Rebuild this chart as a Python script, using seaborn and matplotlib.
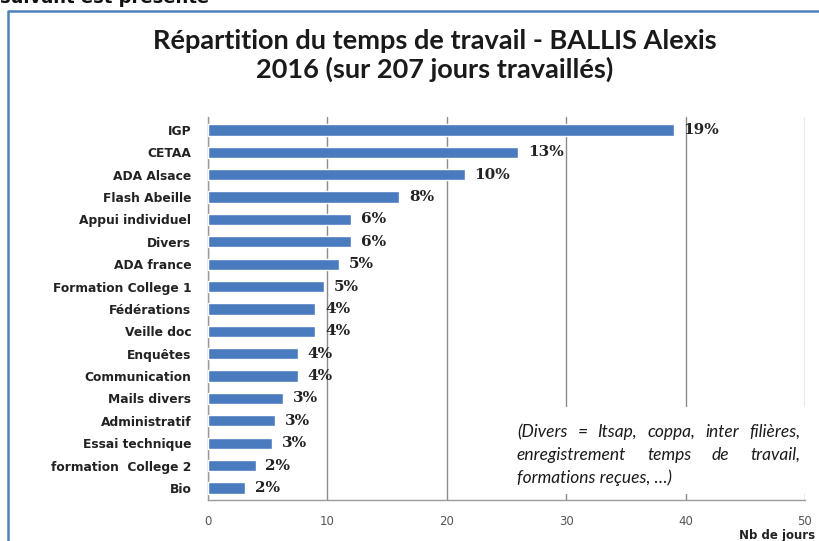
import numpy as np
import pandas as pd
import seaborn as sns
import matplotlib.pyplot as plt
from matplotlib.lines import Line2D
from matplotlib.patches import Rectangle

categories = ['IGP', 'CETAA', 'ADA Alsace', 'Flash Abeille', 'Appui individuel', 'Divers',
              'ADA france', 'Formation College 1', 'Fédérations', 'Veille doc', 'Enquêtes',
              'Communication', 'Mails divers', 'Administratif', 'Essai technique',
              'formation  College 2', 'Bio']
jours = [39, 26, 21.5, 16, 12, 12, 11, 9.7, 9, 9, 7.5, 7.5, 6.3, 5.6, 5.4, 4, 3.1]
pourcents = ['19%', '13%', '10%', '8%', '6%', '6%', '5%', '5%', '4%', '4%', '4%', '4%',
             '3%', '3%', '3%', '2%', '2%']
xticks = [0, 10, 20, 30, 40, 50]
note = ['(Divers = Itsap, coppa, inter filières,',
        'enregistrement temps de travail,',
        'formations reçues, …)']

df = pd.DataFrame({'categorie': categories, 'jours': jours})

sns.set_style('white')
plt.rcParams['font.family'] = ['DejaVu Sans']

W, H = 820, 541
fig = plt.figure(figsize=(8.2, 5.41), dpi=100)
ax = fig.add_axes([208 / W, 1 - 500 / H, (805 - 208) / W, (500 - 117) / H])

sns.barplot(data=df, x='jours', y='categorie', orient='h', color='#4a7bbf',
            width=0.5, saturation=1, ax=ax, zorder=3)

ax.set_xlim(0, 50)
ax.set_ylim(16.54, -0.58)
ax.set_xticks(xticks)
ax.grid(axis='x', color='#8c8c8c', linewidth=1)
ax.grid(axis='y', visible=False)
ax.set_axisbelow(True)

for s in ['top', 'right']:
    ax.spines[s].set_visible(False)
for s in ['left', 'bottom']:
    ax.spines[s].set_color('#9a9a9a')
    ax.spines[s].set_linewidth(1)

ax.tick_params(axis='x', direction='out', length=4, color='#9a9a9a', labelsize=8.5,
               labelcolor='#555555', pad=7)
ax.tick_params(axis='y', which='major', length=0, pad=12, labelsize=8.8, labelcolor='#222222')
ax.set_yticks(np.arange(-0.5, len(categories)), minor=True)
ax.tick_params(axis='y', which='minor', length=4, color='#b0b0b0')
for lab in ax.get_yticklabels():
    lab.set_fontweight('bold')

ax.set_xlabel('')
ax.set_ylabel('')

ax.bar_label(ax.containers[0], labels=pourcents, padding=7, fontsize=11,
             fontweight='bold', family='DejaVu Serif', color='#222222')

fig.text(815 / W, 1 - 535 / H, 'Nb de jours', ha='right', va='center',
         fontsize=8.5, fontweight='bold', color='#222222')

fig.text(435 / W, 1 - 41 / H, 'Répartition du temps de travail - BALLIS Alexis',
         ha='center', va='center', fontsize=19.5, fontweight='bold', family='Lato', color='#1a1a1a')
fig.text(435 / W, 1 - 69 / H, '2016 (sur 207 jours travaillés)',
         ha='center', va='center', fontsize=19.5, fontweight='bold', family='Lato', color='#1a1a1a')

# encart de note (fond blanc par-dessus la grille)
fig.patches.append(Rectangle((512 / W, 1 - 494 / H), (812 - 512) / W, (494 - 407) / H,
                             transform=fig.transFigure, facecolor='white', edgecolor='none',
                             zorder=2))
note_kw = dict(va='center', fontsize=12.5, style='italic', family='Lato', color='#1a1a1a', zorder=3)
renderer = fig.canvas.get_renderer()
x0, x1 = 517, 800
for i, (ligne, y) in enumerate(zip(note, [432, 455, 478])):
    if i == len(note) - 1:
        fig.text(x0 / W, 1 - y / H, ligne, ha='left', **note_kw)
        continue
    # texte justifié : on répartit les mots entre x0 et x1
    mots = ligne.split()
    txts = [fig.text(0, 1 - y / H, m, ha='left', **note_kw) for m in mots]
    larg = [t.get_window_extent(renderer).width for t in txts]
    gap = (x1 - x0 - sum(larg)) / (len(mots) - 1)
    x = x0
    for t, w in zip(txts, larg):
        t.set_x(x / W)
        x += w + gap

# cadre bleu et texte du document
fig.lines.append(Line2D([8 / W, 8 / W, 1], [0, 1 - 11 / H, 1 - 11 / H],
                        transform=fig.transFigure, color='#4f81bd', linewidth=1.8))
fig.text(0.0, 1 + 2 / H, 'suivant est présenté', ha='left', va='center',
         fontsize=13, fontweight='bold', color='#111111')

fig.savefig('out.png', dpi=100)
